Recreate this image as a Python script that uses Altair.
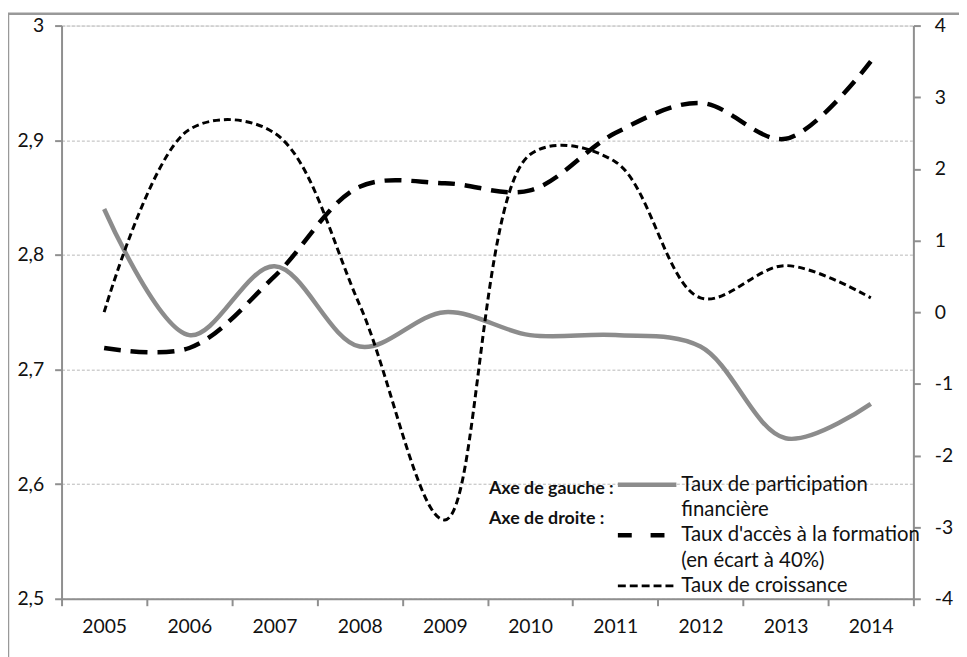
import altair as alt
import pandas as pd

years = [2005, 2006, 2007, 2008, 2009, 2010, 2011, 2012, 2013, 2014]
participation = [2.84, 2.73, 2.79, 2.72, 2.75, 2.73, 2.73, 2.72, 2.64, 2.67]
acces = [-0.5, -0.5, 0.5, 1.75, 1.8, 1.7, 2.5, 2.92, 2.42, 3.5]
croissance = [0.0, 2.55, 2.5, 0.1, -2.9, 2.2, 2.1, 0.2, 0.65, 0.2]

left_ticks = [2.5, 2.6, 2.7, 2.8, 2.9, 3]
right_ticks = [-4, -3, -2, -1, 0, 1, 2, 3, 4]

legend_heads = ["Axe de gauche :", "Axe de droite :"]
legend_labels = ["Taux de participation", "financière",
                 "Taux d'accès à la formation", "(en écart à 40%)",
                 "Taux de croissance"]

df = pd.DataFrame({"year": years, "part": participation,
                   "acces": acces, "croiss": croissance})

FONT = "Lato"
GREY = "#8c8c8c"
AXIS_GREY = "#8f8f8f"
TICK_FS = 19.5

W, H = 859, 578

x_enc = alt.X("year:O", title=None, bandPosition=0.5,
              scale=alt.Scale(type="band", paddingInner=0, paddingOuter=0),
              axis=alt.Axis(tickBand="extent", labelAngle=0, labelFont=FONT,
                            labelFontSize=TICK_FS, labelColor="#111",
                            domainColor=AXIS_GREY, domainWidth=2,
                            tickColor=AXIS_GREY, tickWidth=2, tickSize=7,
                            labelPadding=12))

left = alt.Chart(df).mark_line(color=GREY, strokeWidth=4.5,
                               interpolate="catmull-rom").encode(
    x=x_enc,
    y=alt.Y("part:Q", title=None,
            scale=alt.Scale(domain=[2.5, 3], nice=False, zero=False),
            axis=alt.Axis(orient="left", values=left_ticks,
                          labelExpr="replace(toString(datum.value), '.', ',')",
                          labelFont=FONT, labelFontSize=TICK_FS, labelColor="#111",
                          domainColor=AXIS_GREY, domainWidth=2,
                          tickColor=AXIS_GREY, tickWidth=2, tickSize=7,
                          labelPadding=11,
                          grid=True, gridColor="#b8b8b8", gridDash=[3, 2],
                          gridWidth=1))
)

right_scale = alt.Scale(domain=[-4, 4], nice=False)
right_axis = alt.Axis(orient="right", values=right_ticks,
                      labelExpr="toString(datum.value)",
                      labelFont=FONT, labelFontSize=TICK_FS, labelColor="#111",
                      domainColor=AXIS_GREY, domainWidth=2,
                      tickColor=AXIS_GREY, tickWidth=2, tickSize=7,
                      labelPadding=14, grid=False)

long_dash = alt.Chart(df).mark_line(color="#000", strokeWidth=4.5,
                                    strokeDash=[17, 10],
                                    interpolate="catmull-rom").encode(
    x=x_enc,
    y=alt.Y("acces:Q", title=None, scale=right_scale, axis=right_axis))

short_dash = alt.Chart(df).mark_line(color="#000", strokeWidth=3,
                                     strokeDash=[7, 4],
                                     interpolate="catmull-rom").encode(
    x=x_enc,
    y=alt.Y("croiss:Q", title=None, scale=right_scale, axis=right_axis))

right = alt.layer(long_dash, short_dash)

# outer frame
frame = alt.Chart(pd.DataFrame({"a": [0]})).mark_rect(
    fill=None, stroke="#999", strokeWidth=2.5).encode(
    x=alt.value(-54), x2=alt.value(W + 60),
    y=alt.value(-12), y2=alt.value(H + 80))

# legend (positions relative to plot origin at page (62, 23))
OX, OY = 62, 23
legend_layers = []
for txt, yb in zip(legend_heads, [495, 526]):
    legend_layers.append(
        alt.Chart(pd.DataFrame({"t": [txt]})).mark_text(
            align="left", baseline="alphabetic", font=FONT, fontSize=18,
            fontWeight="bold", color="#111").encode(
            x=alt.value(493 - OX), y=alt.value(yb - OY), text="t:N"))
for txt, yb in zip(legend_labels, [492, 518, 543, 569, 594]):
    legend_layers.append(
        alt.Chart(pd.DataFrame({"t": [txt]})).mark_text(
            align="left", baseline="alphabetic", font=FONT, fontSize=20.5,
            color="#111").encode(
            x=alt.value(687 - OX), y=alt.value(yb - OY), text="t:N"))

samples = [
    dict(color=GREY, strokeWidth=4.5, y=486),
    dict(color="#000", strokeWidth=4.5, y=537, strokeDash=[14, 19]),
    dict(color="#000", strokeWidth=3, y=588, strokeDash=[8, 4]),
]
for s in samples:
    kw = dict(color=s["color"], strokeWidth=s["strokeWidth"])
    if "strokeDash" in s:
        kw["strokeDash"] = s["strokeDash"]
    legend_layers.append(
        alt.Chart(pd.DataFrame({"a": [0]})).mark_rule(**kw).encode(
            x=alt.value(623 - OX), x2=alt.value(682 - OX),
            y=alt.value(s["y"] - OY)))

chart = alt.layer(frame, left, right, *legend_layers).resolve_scale(
    y="independent"
).properties(
    width=W, height=H,
    autosize=alt.AutoSizeParams(type="none"),
    padding={"left": 54, "top": 15, "right": 46, "bottom": 56},
).configure_view(stroke=None).configure(background="white")

chart.save("out.html", embed_options={"renderer": "svg", "actions": False})
